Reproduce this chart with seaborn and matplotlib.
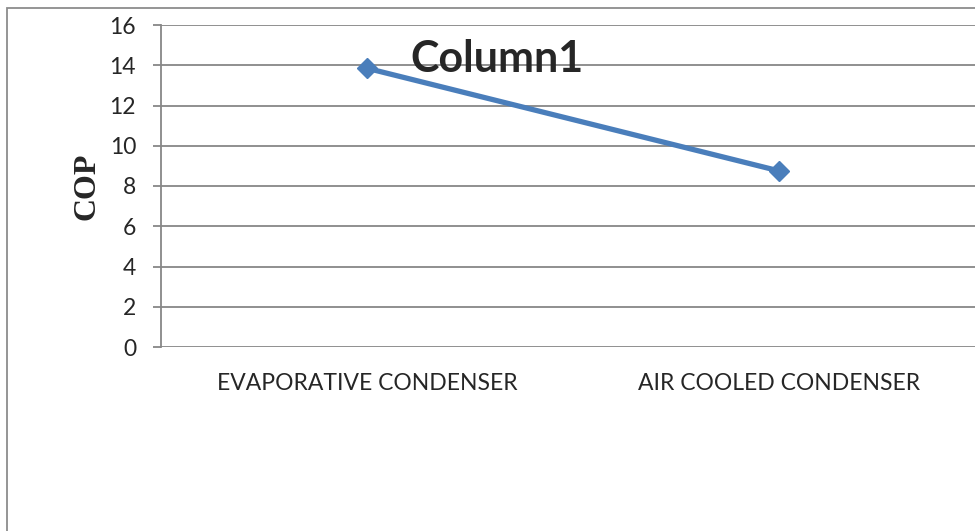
import matplotlib
matplotlib.use("Agg")
import matplotlib.pyplot as plt
import seaborn as sns
import pandas as pd
from matplotlib.patches import Rectangle

# data
condensers = ["EVAPORATIVE CONDENSER", "AIR COOLED CONDENSER"]
cop = [13.85, 8.75]
y_ticks = [0, 2, 4, 6, 8, 10, 12, 14, 16]

df = pd.DataFrame({"condenser": condensers, "COP": cop})

sns.set_style("white")
plt.rcParams['font.family'] = ['Lato', 'DejaVu Sans']

W, H = 975, 531
fig = plt.figure(figsize=(W / 100, H / 100), dpi=100)
ax = fig.add_axes([161 / W, 184 / H, 824 / W, 322 / H])

grid_col = "#878787"
blue = "#4A7EBB"

sns.lineplot(data=df, x="condenser", y="COP", ax=ax, color=blue, linewidth=3.8,
             marker="D", markersize=10, markeredgecolor=blue, markeredgewidth=1,
             sort=False)

ax.set_xlim(-0.5, 1.5)
ax.set_ylim(0, 16)
ax.set_yticks(y_ticks)
ax.yaxis.grid(True, color=grid_col, linewidth=1.3)
ax.set_axisbelow(True)
for s in ["top", "right", "bottom"]:
    ax.spines[s].set_visible(False)
ax.spines["left"].set_color(grid_col)
ax.spines["left"].set_linewidth(1.3)
ax.tick_params(axis="y", length=6, width=1.3, color=grid_col, pad=12, labelsize=16.5,
               left=True)
ax.tick_params(axis="x", length=0, pad=19, labelsize=16.5)
ax.set_xlabel("")
ax.set_ylabel("COP", family=["Liberation Serif"], fontweight="bold", fontsize=23, labelpad=6)

fig.text(497 / W, 1 - 59 / H, "Column1", ha="center", va="center",
         fontsize=31, fontweight="bold")

# outer chart border (cropped on right and bottom)
fig.patches.append(Rectangle((7 / W, -0.1), 1.2, 1 - 8 / H + 0.1, transform=fig.transFigure,
                             fill=False, edgecolor="#8c8c8c", linewidth=1.3))

fig.savefig("out.png", dpi=100)
